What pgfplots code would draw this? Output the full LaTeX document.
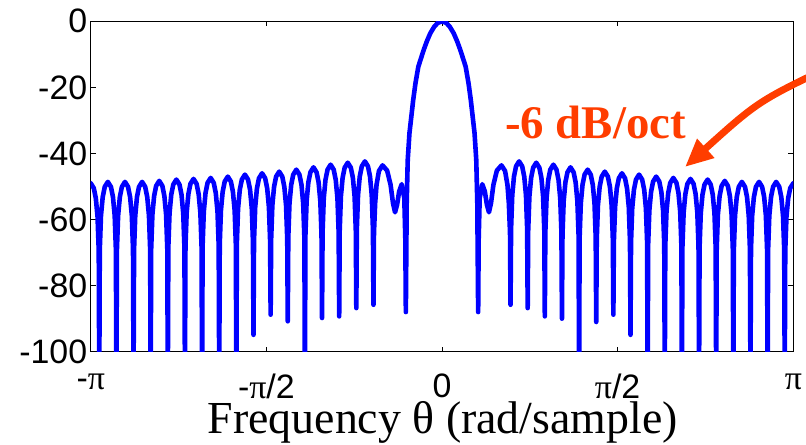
\documentclass[border=0pt]{standalone}
\usepackage{fontspec}
\setmainfont{Liberation Sans}
\newfontfamily\tnr{Liberation Serif}
\usepackage{pgfplots}
\pgfplotsset{compat=1.18}
\usetikzlibrary{arrows.meta}
\definecolor{annot}{RGB}{255,61,0}
\begin{document}
\begin{tikzpicture}
\begin{axis}[at={(0,0)}, anchor=south west, scale only axis,
  width=702.6bp, height=330.4bp,
  xmin=-20.5, xmax=20.5, ymin=-100, ymax=0,
  xtick={-20.5,-10.25,0,10.25,20.5},
  xticklabels={-{\tnr π}, -{\tnr π}/2, 0, {\tnr π}/2, {\tnr π}},
  ytick={-100,-80,-60,-40,-20,0},
  yticklabels={-100,-80,-60,-40,-20,0},
  xtick pos=both, ytick pos=both,
  tick align=inside, major tick length=5bp,
  tick style={black, line width=0.6bp},
  axis line style={line width=1bp},
  ticklabel style={font=\fontsize{34}{40}\selectfont},
  xticklabel style={inner sep=0pt, yshift=-22bp},
  clip=true]
\addplot[color={rgb,255:red,0;green,0;blue,255}, line width=4.6bp, line join=round, line cap=round] coordinates {
(-20.5,-49.0) (-20.32,-50.5) (-20.2,-53.6) (-20.1,-59.2) (-20.03,-69.5) (-20,-110)
(-19.97,-69.1) (-19.9,-58.8) (-19.8,-53.2) (-19.68,-50.1) (-19.5,-48.6) (-19.32,-50.1) (-19.2,-53.2) (-19.1,-58.8) (-19.03,-69.1) (-19,-110)
(-18.97,-69.1) (-18.9,-58.8) (-18.8,-53.2) (-18.68,-50.1) (-18.5,-48.6) (-18.32,-50.1) (-18.2,-53.2) (-18.1,-58.8) (-18.03,-69.1) (-18,-110)
(-17.97,-69.1) (-17.9,-58.8) (-17.8,-53.2) (-17.68,-50.1) (-17.5,-48.6) (-17.32,-50.1) (-17.2,-53.2) (-17.1,-58.8) (-17.03,-69.1) (-17,-110)
(-16.97,-68.8) (-16.9,-58.5) (-16.8,-52.9) (-16.68,-49.8) (-16.5,-48.3) (-16.32,-49.8) (-16.2,-52.9) (-16.1,-58.5) (-16.03,-68.8) (-16,-110)
(-15.97,-68.4) (-15.9,-58.1) (-15.8,-52.5) (-15.68,-49.4) (-15.5,-47.9) (-15.32,-49.4) (-15.2,-52.5) (-15.1,-58.1) (-15.03,-68.4) (-15,-110)
(-14.97,-68.2) (-14.9,-57.9) (-14.8,-52.3) (-14.68,-49.2) (-14.5,-47.7) (-14.32,-49.2) (-14.2,-52.3) (-14.1,-57.9) (-14.03,-68.2) (-14,-110)
(-13.97,-67.9) (-13.9,-57.6) (-13.8,-52.0) (-13.68,-48.9) (-13.5,-47.4) (-13.32,-48.9) (-13.2,-52.0) (-13.1,-57.6) (-13.03,-67.9) (-13,-110)
(-12.97,-67.5) (-12.9,-57.2) (-12.8,-51.6) (-12.68,-48.5) (-12.5,-47.0) (-12.32,-48.5) (-12.2,-51.6) (-12.1,-57.2) (-12.03,-67.5) (-12,-110)
(-11.97,-66.9) (-11.9,-56.6) (-11.8,-51.0) (-11.68,-47.9) (-11.5,-46.4) (-11.32,-47.9) (-11.2,-51.0) (-11.1,-56.6) (-11.03,-66.9) (-11,-94.9)
(-10.97,-66.5) (-10.9,-56.2) (-10.8,-50.6) (-10.68,-47.5) (-10.5,-46.0) (-10.32,-47.5) (-10.2,-50.6) (-10.1,-56.2) (-10.03,-66.5) (-10,-88.8)
(-9.97,-66.0) (-9.9,-55.7) (-9.8,-50.1) (-9.68,-47.0) (-9.5,-45.5) (-9.32,-47.0) (-9.2,-50.1) (-9.1,-55.7) (-9.03,-66.0) (-9,-90.8)
(-8.97,-65.4) (-8.9,-55.1) (-8.8,-49.5) (-8.68,-46.4) (-8.5,-44.9) (-8.32,-46.4) (-8.2,-49.5) (-8.1,-55.1) (-8.03,-65.4) (-8,-110)
(-7.97,-64.7) (-7.9,-54.4) (-7.8,-48.8) (-7.68,-45.7) (-7.5,-44.2) (-7.32,-45.7) (-7.2,-48.8) (-7.1,-54.4) (-7.03,-64.7) (-7,-89.8)
(-6.97,-63.9) (-6.9,-53.6) (-6.8,-48.0) (-6.68,-44.9) (-6.5,-43.4) (-6.32,-44.9) (-6.2,-48.0) (-6.1,-53.6) (-6.03,-63.9) (-6,-89.3)
(-5.97,-63.3) (-5.9,-53.0) (-5.8,-47.4) (-5.68,-44.3) (-5.5,-42.8) (-5.32,-44.3) (-5.2,-47.4) (-5.1,-53.0) (-5.03,-63.3) (-5,-86.8)
(-4.97,-62.9) (-4.9,-52.6) (-4.8,-47.0) (-4.68,-43.9) (-4.5,-42.4) (-4.32,-43.9) (-4.2,-47.0) (-4.1,-52.6) (-4.03,-62.9) (-4,-85.8)
(-3.97,-64) (-3.9,-55) (-3.82,-49.5) (-3.68,-45.3) (-3.47,-43.6) (-3.2,-45.2) (-3.0,-49.5) (-2.86,-55) (-2.74,-57.8) (-2.62,-55.5) (-2.5,-51.5) (-2.35,-49.3) (-2.2,-53.5) (-2.14,-66) (-2.11,-88)
(-2.06,-55) (-2.0,-42) (-1.9,-33.9) (-1.68,-23.8) (-1.55,-18.8) (-1.38,-13.7) (-1.07,-8.7) (-0.88,-6.0) (-0.68,-3.6) (-0.45,-1.6) (-0.25,-0.5) (0,0)
(0.25,-0.5) (0.45,-1.6) (0.68,-3.6) (0.88,-6.0) (1.07,-8.7) (1.38,-13.7) (1.55,-18.8) (1.68,-23.8) (1.9,-33.9) (2.0,-42) (2.06,-55) (2.11,-88)
(2.14,-66) (2.2,-53.5) (2.35,-49.3) (2.5,-51.5) (2.62,-55.5) (2.74,-57.8) (2.86,-55) (3.0,-49.5) (3.2,-45.2) (3.47,-43.6) (3.68,-45.3) (3.82,-49.5) (3.9,-55) (3.97,-64) (4,-85.8)
(4.03,-62.9) (4.1,-52.6) (4.2,-47.0) (4.32,-43.9) (4.5,-42.4) (4.68,-43.9) (4.8,-47.0) (4.9,-52.6) (4.97,-62.9) (5,-86.8)
(5.03,-63.3) (5.1,-53.0) (5.2,-47.4) (5.32,-44.3) (5.5,-42.8) (5.68,-44.3) (5.8,-47.4) (5.9,-53.0) (5.97,-63.3) (6,-89.3)
(6.03,-63.9) (6.1,-53.6) (6.2,-48.0) (6.32,-44.9) (6.5,-43.4) (6.68,-44.9) (6.8,-48.0) (6.9,-53.6) (6.97,-63.9) (7,-90)
(7.03,-64.7) (7.1,-54.4) (7.2,-48.8) (7.32,-45.7) (7.5,-44.2) (7.68,-45.7) (7.8,-48.8) (7.9,-54.4) (7.97,-64.7) (8,-110)
(8.03,-65.4) (8.1,-55.1) (8.2,-49.5) (8.32,-46.4) (8.5,-44.9) (8.68,-46.4) (8.8,-49.5) (8.9,-55.1) (8.97,-65.4) (9,-91)
(9.03,-66.0) (9.1,-55.7) (9.2,-50.1) (9.32,-47.0) (9.5,-45.5) (9.68,-47.0) (9.8,-50.1) (9.9,-55.7) (9.97,-66.0) (10,-88.8)
(10.03,-66.5) (10.1,-56.2) (10.2,-50.6) (10.32,-47.5) (10.5,-46.0) (10.68,-47.5) (10.8,-50.6) (10.9,-56.2) (10.97,-66.5) (11,-94.9)
(11.03,-66.9) (11.1,-56.6) (11.2,-51.0) (11.32,-47.9) (11.5,-46.4) (11.68,-47.9) (11.8,-51.0) (11.9,-56.6) (11.97,-66.9) (12,-110)
(12.03,-67.5) (12.1,-57.2) (12.2,-51.6) (12.32,-48.5) (12.5,-47.0) (12.68,-48.5) (12.8,-51.6) (12.9,-57.2) (12.97,-67.5) (13,-110)
(13.03,-67.9) (13.1,-57.6) (13.2,-52.0) (13.32,-48.9) (13.5,-47.4) (13.68,-48.9) (13.8,-52.0) (13.9,-57.6) (13.97,-67.9) (14,-110)
(14.03,-68.2) (14.1,-57.9) (14.2,-52.3) (14.32,-49.2) (14.5,-47.7) (14.68,-49.2) (14.8,-52.3) (14.9,-57.9) (14.97,-68.2) (15,-110)
(15.03,-68.4) (15.1,-58.1) (15.2,-52.5) (15.32,-49.4) (15.5,-47.9) (15.68,-49.4) (15.8,-52.5) (15.9,-58.1) (15.97,-68.4) (16,-110)
(16.03,-68.8) (16.1,-58.5) (16.2,-52.9) (16.32,-49.8) (16.5,-48.3) (16.68,-49.8) (16.8,-52.9) (16.9,-58.5) (16.97,-68.8) (17,-110)
(17.03,-69.1) (17.1,-58.8) (17.2,-53.2) (17.32,-50.1) (17.5,-48.6) (17.68,-50.1) (17.8,-53.2) (17.9,-58.8) (17.97,-69.1) (18,-110)
(18.03,-69.1) (18.1,-58.8) (18.2,-53.2) (18.32,-50.1) (18.5,-48.6) (18.68,-50.1) (18.8,-53.2) (18.9,-58.8) (18.97,-69.1) (19,-110)
(19.03,-69.1) (19.1,-58.8) (19.2,-53.2) (19.32,-50.1) (19.5,-48.6) (19.68,-50.1) (19.8,-53.2) (19.9,-58.8) (19.97,-69.1) (20,-110)
(20.03,-69.5) (20.1,-59.2) (20.2,-53.6) (20.32,-50.5) (20.5,-49.0)
};
\end{axis}
\node[font=\tnr\fontsize{46}{50}\selectfont, anchor=base, inner sep=0pt] at (352bp,-81.6bp) {Frequency θ (rad/sample)};
\node[text=annot, font=\tnr\bfseries\fontsize{47}{50}\selectfont, anchor=base west, inner sep=0pt] at (414.3bp,213.4bp) {-6 dB/oct};
\draw[annot, line width=7bp, -{Triangle[length=28bp,width=24bp]}] (749.3bp,289.7bp) .. controls (668bp,251bp) .. (594.3bp,184.7bp);
\pgfresetboundingbox
\path[use as bounding box] (-90.7bp,-93.3bp) rectangle (715.3bp,351.7bp);
\end{tikzpicture}
\end{document}
